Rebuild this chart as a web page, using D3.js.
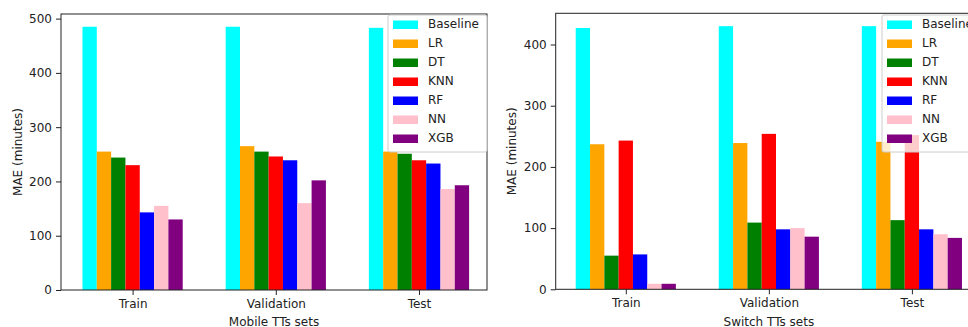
<!DOCTYPE html>
<html>
<head>
<meta charset="utf-8">
<script src="https://cdn.jsdelivr.net/npm/d3@7"></script>
<style>
    body { margin: 0; background: #fff; }
    svg text { font-family: "DejaVu Sans", sans-serif; }
</style>
</head>
<body>
<div id="chart"></div>
<script>
// models (one bar per model in every group)
const models = ["Baseline", "LR", "DT", "KNN", "RF", "NN", "XGB"];
const modelColors = ["cyan", "orange", "green", "red", "blue", "pink", "purple"];
const sets = ["Train", "Validation", "Test"];
const yTicks = [0, 100, 200, 300, 400, 500];

// MAE (minutes), one row per set, one value per model
const mobileMae = [
    [485, 255, 244, 230, 143, 155, 130],
    [485, 265, 255, 246, 239, 160, 202],
    [483, 255, 251, 239, 233, 186, 193]
];
const switchMae = [
    [427, 237, 55, 243, 57, 9, 9],
    [430, 239, 109, 254, 98, 100, 86],
    [430, 241, 113, 252, 98, 90, 84]
];

const W = 968, H = 327;
const barWidth = 0.1;

const svg = d3.select("#chart").append("svg")
    .attr("width", W)
    .attr("height", H);

function drawPanel(opts) {
    const g = svg.append("g");
    const width = opts.right - opts.left;

    const x = d3.scaleLinear()
        .domain(opts.xDomain)
        .range([opts.left, opts.right]);
    const y = d3.scaleLinear()
        .domain([0, opts.yMax])
        .range([opts.bottom, opts.top]);

    // clip so the right panel can run off the page like the original
    const bw = x(barWidth) - x(0);

    sets.forEach((s, i) => {
        g.selectAll(null)
            .data(opts.data[i])
            .enter()
            .append("rect")
            .attr("x", (d, j) => x(i + (j - 3) * barWidth - barWidth / 2))
            .attr("y", d => y(d))
            .attr("width", bw)
            .attr("height", d => y(0) - y(d))
            .attr("fill", (d, j) => modelColors[j]);
    });

    // axes
    const yAxis = g.append("g")
        .attr("transform", `translate(${opts.left},0)`)
        .call(d3.axisLeft(y).tickValues(yTicks.filter(t => t <= opts.yMax)).tickSize(5).tickPadding(4));
    const xAxis = g.append("g")
        .attr("transform", `translate(0,${opts.bottom})`)
        .call(d3.axisBottom(x).tickValues([0, 1, 2]).tickFormat(d => sets[d]).tickSize(5).tickPadding(4));

    [yAxis, xAxis].forEach(a => {
        a.select(".domain").remove();
        a.selectAll("text").attr("font-size", 12).attr("fill", "#222")
            .attr("font-family", "DejaVu Sans, sans-serif");
        a.selectAll("line").attr("stroke", "#222").attr("stroke-width", 1);
    });

    // frame
    g.append("rect")
        .attr("x", opts.left)
        .attr("y", opts.top)
        .attr("width", width)
        .attr("height", opts.bottom - opts.top)
        .attr("fill", "none")
        .attr("stroke", "#222")
        .attr("stroke-width", 1);

    // axis labels
    g.append("text")
        .attr("transform", `translate(${opts.left - 43},${(opts.top + opts.bottom) / 2}) rotate(-90)`)
        .attr("text-anchor", "middle")
        .attr("dominant-baseline", "middle")
        .attr("font-size", 12)
        .attr("fill", "#222")
        .text("MAE (minutes)");

    g.append("text")
        .attr("x", (opts.left + opts.right) / 2)
        .attr("y", 322)
        .attr("text-anchor", "middle")
        .attr("dominant-baseline", "middle")
        .attr("font-size", 12)
        .attr("fill", "#222")
        .text(opts.xLabel);

    // legend
    const lg = g.append("g").attr("transform", `translate(${opts.legendX},15)`);
    lg.append("rect")
        .attr("width", 99)
        .attr("height", 137)
        .attr("rx", 2)
        .attr("fill", "white")
        .attr("fill-opacity", 0.8)
        .attr("stroke", "#ccc")
        .attr("stroke-width", 1);
    const items = lg.selectAll(".item")
        .data(models)
        .enter()
        .append("g")
        .attr("class", "item")
        .attr("transform", (d, i) => `translate(0,${9.5 + i * 19})`);
    items.append("rect")
        .attr("x", 5)
        .attr("y", -4)
        .attr("width", 25)
        .attr("height", 8.5)
        .attr("fill", (d, i) => modelColors[i]);
    items.append("text")
        .attr("x", 40)
        .attr("y", 0)
        .attr("dominant-baseline", "middle")
        .attr("font-size", 12)
        .attr("fill", "#222")
        .text(d => d);
}

drawPanel({
    data: mobileMae,
    left: 61, right: 487, top: 14, bottom: 290,
    xDomain: [-0.5, 2.475],
    yMax: 508.5,
    xLabel: "Mobile TTs sets",
    legendX: 388
});

drawPanel({
    data: switchMae,
    left: 555.7, right: 982, top: 13.3, bottom: 289.3,
    xDomain: [-0.49, 2.49],
    yMax: 451,
    xLabel: "Switch TTs sets",
    legendX: 882
});
</script>
</body>
</html>
